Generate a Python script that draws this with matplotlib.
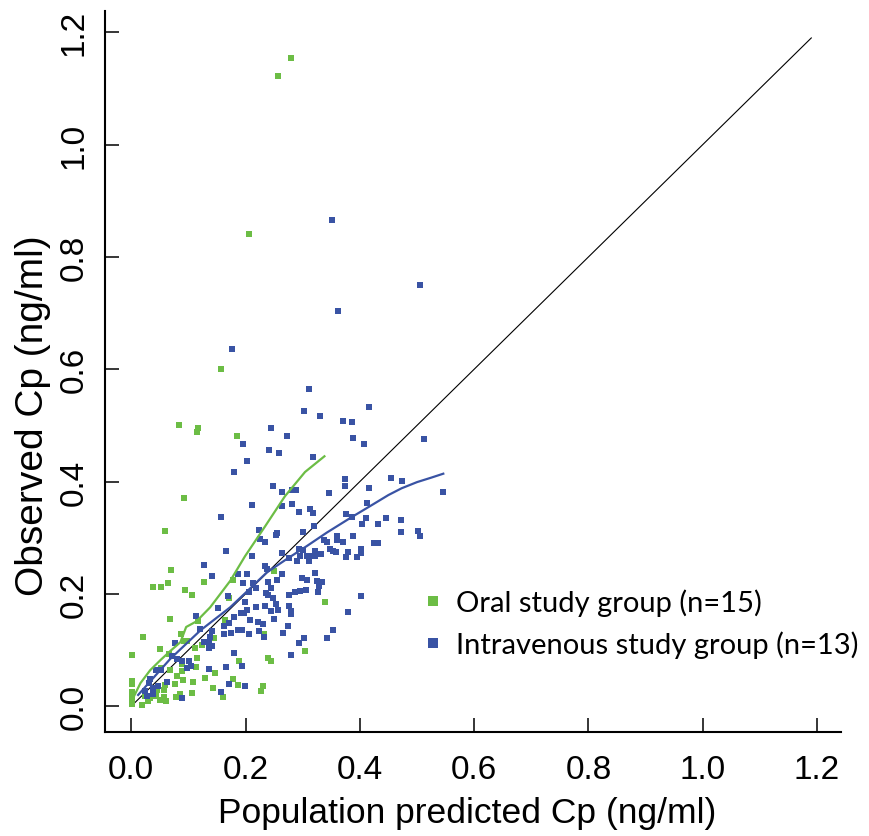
import matplotlib
matplotlib.use("Agg")
import matplotlib.pyplot as plt
from matplotlib.lines import Line2D

# Oral study group: population predicted vs observed Cp (ng/ml)
oral_pred = [
    0.279, 0.257, 0.206, 0.157, 0.084, 0.117, 0.115, 0.185, 0.093, 0.059,
    0.070, 0.128, 0.065, 0.038, 0.052, 0.094, 0.107, 0.178, 0.250, 0.171,
    0.339, 0.068, 0.117, 0.164, 0.021, 0.087, 0.145, 0.233, 0.093, 0.098,
    0.124, 0.112, 0.051, 0.304, 0.066, 0.002, 0.115, 0.189, 0.240, 0.245,
    0.089, 0.114, 0.052, 0.068, 0.089, 0.147, 0.080, 0.129, 0.178, 0.090,
    0.002, 0.108, 0.002, 0.077, 0.187, 0.059, 0.231, 0.143, 0.058, 0.045,
    0.227, 0.002, 0.107, 0.042, 0.086, 0.024, 0.044, 0.079, 0.161, 0.058,
    0.002, 0.033, 0.051, 0.061, 0.030, 0.002, 0.019,
]
oral_obs = [
    1.154, 1.122, 0.841, 0.600, 0.500, 0.495, 0.488, 0.482, 0.370, 0.312,
    0.243, 0.221, 0.220, 0.212, 0.212, 0.207, 0.198, 0.225, 0.241, 0.193,
    0.186, 0.155, 0.152, 0.154, 0.123, 0.129, 0.122, 0.129, 0.116, 0.116,
    0.109, 0.104, 0.102, 0.098, 0.093, 0.091, 0.086, 0.081, 0.086, 0.081,
    0.075, 0.070, 0.068, 0.065, 0.063, 0.059, 0.054, 0.050, 0.049, 0.047,
    0.045, 0.043, 0.040, 0.040, 0.038, 0.038, 0.036, 0.033, 0.029, 0.029,
    0.027, 0.025, 0.024, 0.022, 0.022, 0.018, 0.018, 0.017, 0.017, 0.017,
    0.015, 0.015, 0.011, 0.009, 0.009, 0.004, 0.002,
]

# Intravenous study group
iv_pred = [
    0.177, 0.352, 0.506, 0.362, 0.311, 0.303, 0.331, 0.416, 0.371, 0.387,
    0.245, 0.273, 0.196, 0.388, 0.408, 0.512, 0.241, 0.259, 0.203, 0.318,
    0.180, 0.248, 0.264, 0.282, 0.289, 0.374, 0.374, 0.455, 0.474, 0.416,
    0.546, 0.346, 0.212, 0.264, 0.282, 0.413, 0.157, 0.294, 0.313, 0.318,
    0.376, 0.387, 0.411, 0.446, 0.472, 0.404, 0.432, 0.320, 0.224, 0.255,
    0.254, 0.301, 0.472, 0.502, 0.506, 0.360, 0.360, 0.388, 0.226, 0.234,
    0.338, 0.343, 0.371, 0.425, 0.432, 0.166, 0.264, 0.212, 0.276, 0.294,
    0.301, 0.290, 0.311, 0.296, 0.308, 0.313, 0.322, 0.322, 0.332, 0.348,
    0.353, 0.359, 0.380, 0.376, 0.395, 0.402, 0.402, 0.234, 0.238, 0.264,
    0.128, 0.142, 0.187, 0.203, 0.196, 0.213, 0.219, 0.240, 0.245, 0.255,
    0.206, 0.236, 0.248, 0.240, 0.299, 0.308, 0.322, 0.325, 0.334, 0.329,
    0.327, 0.306, 0.296, 0.287, 0.276, 0.152, 0.199, 0.219, 0.203, 0.192,
    0.198, 0.234, 0.254, 0.257, 0.245, 0.276, 0.280, 0.280, 0.402, 0.380,
    0.180, 0.171, 0.163, 0.163, 0.175, 0.208, 0.222, 0.231, 0.250, 0.187,
    0.194, 0.206, 0.224, 0.266, 0.275, 0.233, 0.303, 0.294, 0.343, 0.353,
    0.136, 0.142, 0.136, 0.180, 0.280, 0.136, 0.166, 0.194, 0.199, 0.171,
    0.170, 0.114, 0.121, 0.142, 0.138, 0.077, 0.128, 0.072, 0.080, 0.089,
    0.101, 0.098, 0.105, 0.052, 0.044, 0.033, 0.031, 0.063, 0.047, 0.038,
    0.024, 0.028, 0.038, 0.089, 0.157,
]
iv_obs = [
    0.636, 0.866, 0.750, 0.704, 0.564, 0.525, 0.516, 0.532, 0.507, 0.506,
    0.495, 0.481, 0.466, 0.477, 0.466, 0.475, 0.456, 0.450, 0.436, 0.443,
    0.417, 0.392, 0.381, 0.385, 0.385, 0.404, 0.392, 0.406, 0.401, 0.389,
    0.381, 0.380, 0.358, 0.357, 0.360, 0.362, 0.337, 0.346, 0.351, 0.344,
    0.342, 0.337, 0.335, 0.335, 0.332, 0.325, 0.325, 0.321, 0.314, 0.309,
    0.305, 0.310, 0.310, 0.312, 0.303, 0.303, 0.296, 0.303, 0.298, 0.292,
    0.296, 0.292, 0.292, 0.291, 0.291, 0.276, 0.273, 0.268, 0.264, 0.280,
    0.278, 0.259, 0.259, 0.268, 0.268, 0.268, 0.276, 0.268, 0.271, 0.280,
    0.276, 0.275, 0.275, 0.266, 0.266, 0.280, 0.273, 0.250, 0.244, 0.236,
    0.252, 0.232, 0.236, 0.236, 0.220, 0.220, 0.211, 0.221, 0.211, 0.225,
    0.203, 0.202, 0.193, 0.198, 0.228, 0.225, 0.237, 0.223, 0.221, 0.214,
    0.204, 0.207, 0.205, 0.204, 0.198, 0.175, 0.186, 0.177, 0.171, 0.166,
    0.166, 0.179, 0.182, 0.171, 0.170, 0.179, 0.170, 0.164, 0.196, 0.168,
    0.159, 0.148, 0.143, 0.129, 0.130, 0.154, 0.150, 0.147, 0.155, 0.136,
    0.136, 0.129, 0.134, 0.130, 0.143, 0.123, 0.122, 0.113, 0.122, 0.136,
    0.114, 0.107, 0.104, 0.095, 0.091, 0.066, 0.070, 0.072, 0.036, 0.040,
    0.196, 0.161, 0.138, 0.134, 0.123, 0.113, 0.114, 0.090, 0.084, 0.081,
    0.081, 0.068, 0.072, 0.065, 0.065, 0.049, 0.041, 0.043, 0.036, 0.033,
    0.027, 0.018, 0.022, 0.015, 0.025,
]

# smoothed trend lines
oral_fit_x = [0.002, 0.016, 0.033, 0.051, 0.068, 0.086, 0.096, 0.114, 0.138,
              0.173, 0.199, 0.234, 0.269, 0.304, 0.338]
oral_fit_y = [0.012, 0.041, 0.064, 0.082, 0.098, 0.114, 0.141, 0.151, 0.176,
              0.223, 0.267, 0.320, 0.374, 0.417, 0.445]
iv_fit_x = [0.012, 0.068, 0.121, 0.173, 0.199, 0.237, 0.272, 0.307, 0.342,
            0.383, 0.424, 0.450, 0.473, 0.500, 0.525, 0.546]
iv_fit_y = [0.020, 0.084, 0.135, 0.176, 0.201, 0.238, 0.262, 0.285, 0.309,
            0.335, 0.360, 0.376, 0.388, 0.399, 0.407, 0.414]

identity = [0.0, 1.19]
ticks = [0.0, 0.2, 0.4, 0.6, 0.8, 1.0, 1.2]
tick_labels = ["0.0", "0.2", "0.4", "0.6", "0.8", "1.0", "1.2"]

GREEN = "#6cbd45"
BLUE = "#3953a4"

plt.rcParams["font.family"] = ["Liberation Sans", "DejaVu Sans"]

fig = plt.figure(figsize=(8.7, 8.37), dpi=100)
ax = fig.add_axes([105 / 870, 104 / 837, 736 / 870, 721 / 837])

ax.plot(identity, identity, color="black", lw=0.8, zorder=1)
ax.scatter(oral_pred, oral_obs, marker="s", s=21, color=GREEN,
           linewidths=0, zorder=2)
ax.scatter(iv_pred, iv_obs, marker="s", s=21, color=BLUE,
           linewidths=0, zorder=3)
ax.plot(oral_fit_x, oral_fit_y, color=GREEN, lw=1.6, zorder=4)
ax.plot(iv_fit_x, iv_fit_y, color=BLUE, lw=1.6, zorder=4)

ax.set_xlim(-0.046, 1.242)
ax.set_ylim(-0.046, 1.238)

ax.set_xticks(ticks)
ax.set_xticklabels(tick_labels)
ax.set_yticks(ticks)
ax.set_yticklabels(tick_labels, rotation=90, va="center")

for side in ["top", "right"]:
    ax.spines[side].set_visible(False)
for side in ["left", "bottom"]:
    ax.spines[side].set_linewidth(1.5)

ax.tick_params(axis="both", direction="in", length=10, width=1.1,
               labelsize=24)
ax.tick_params(axis="x", pad=16)
ax.tick_params(axis="y", pad=11)

fig.text(467 / 870, 1 - 823 / 837, "Population predicted Cp (ng/ml)",
         ha="center", va="baseline", fontsize=25.5)
fig.text(33 / 870, 1 - 416 / 837, "Observed Cp (ng/ml)",
         ha="center", va="center", rotation=90, fontsize=28)

handles = [
    Line2D([], [], marker="s", linestyle="none", markersize=6.5,
           markerfacecolor=GREEN, markeredgewidth=0,
           label="Oral study group (n=15)"),
    Line2D([], [], marker="s", linestyle="none", markersize=6.5,
           markerfacecolor=BLUE, markeredgewidth=0,
           label="Intravenous study group (n=13)"),
]
ax.legend(handles=handles, loc="center left",
          bbox_to_anchor=(424 / 870, 1 - 624 / 837),
          bbox_transform=fig.transFigure, frameon=False,
          prop={"family": ["Lato", "DejaVu Sans"], "size": 21},
          handlelength=0.6, handletextpad=0.5, labelspacing=0.5,
          borderpad=0, borderaxespad=0)

fig.savefig("out.png", dpi=100)
